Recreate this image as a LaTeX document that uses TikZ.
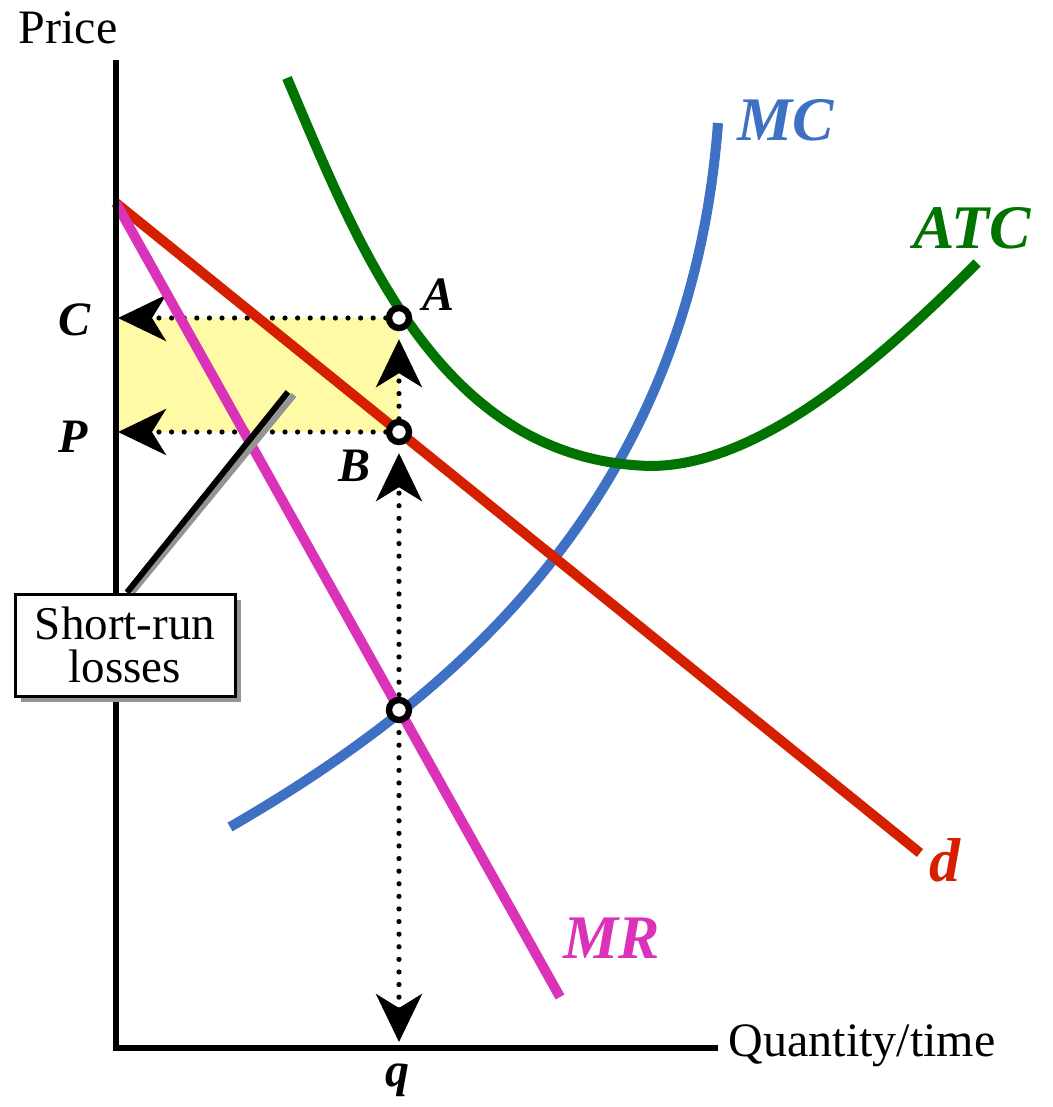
\documentclass[tikz,border=0pt]{standalone}
\usepackage{fontspec}
\setmainfont{Liberation Serif}
\usepackage{tikz}
\usetikzlibrary{arrows.meta,positioning,calc,shadows,backgrounds}

\begin{document}
\begin{tikzpicture}[
  x=0.5pt, y=-0.5pt,
  >={Stealth[length=24pt, width=23pt, inset=7pt]},
  axis/.style={line width=3pt, draw=black},
  curve/.style={line width=5pt},
  guide/.style={line width=2.6pt, line cap=round, dash pattern=on 0pt off 6.3pt},
  dot/.style={circle, draw=black, fill=white, line width=3.2pt, minimum size=10pt, inner sep=0pt},
  lbl/.style={font=\fontsize{24}{26}\selectfont\bfseries\itshape},
  crvlbl/.style={font=\fontsize{31}{33}\selectfont\bfseries\itshape},
  axlbl/.style={font=\fontsize{24}{26}\selectfont},
  callout/.style={
    draw=black, fill=white, line width=1.5pt,
    minimum width=110pt, minimum height=51pt,
    align=center, inner sep=2pt,
    font=\fontsize{23.5}{21.5}\selectfont,
    drop shadow={shadow xshift=3pt, shadow yshift=-3pt, fill=black!42, opacity=1}
  }
]

\definecolor{mcblue}{RGB}{62,112,196}
\definecolor{atcgreen}{RGB}{0,115,0}
\definecolor{dred}{RGB}{212,32,0}
\definecolor{mrmag}{RGB}{218,50,185}
\definecolor{lossyellow}{RGB}{255,250,165}

\useasboundingbox (0,0) rectangle (1053,1107);

% axis points (pixel grid of the original figure)
\coordinate (O) at (116,1048);
\coordinate (ytop) at (116,60);
\coordinate (xend) at (718,1048);
\coordinate (Cax) at (116,318);
\coordinate (Pax) at (116,432);
\coordinate (qax) at (399,1048);
\coordinate (ptr) at (288,392);

% marked points and callout sit on the main layer
\node[dot] (A) at (399,318) {};
\node[dot] (B) at (399,432) {};
\node[dot] (E) at (399,710) {};
\node[callout] (losses) at (125,645) {Short-run\\losses};

% labels
\node[axlbl] (price) at (68,28) {Price};
\node[axlbl] (qty) at (862,1046) {Quantity/time};
\node[lbl] (Clbl) at (75,320) {C};
\node[lbl] (Plbl) at (73,437) {P};
\node[lbl] (Albl) at (438,295) {A};
\node[lbl] (Blbl) at (355,466) {B};
\node[lbl] (qlbl) at (397,1080) {q};
\node[crvlbl, text=mcblue] (MClbl) at (786,120) {MC};
\node[crvlbl, text=atcgreen] (ATClbl) at (972,228) {ATC};
\node[crvlbl, text=dred] (dlbl) at (945,860) {d};
\node[crvlbl, text=mrmag] (MRlbl) at (612,938) {MR};

\begin{scope}[on background layer]
  % shaded loss rectangle
  \fill[lossyellow] (Cax) rectangle (B.center);

  % dotted guides with arrows
  \draw[guide, ->, shorten >=1pt] (A) -- (Cax);
  \draw[guide, ->, shorten >=1pt] (B) -- (Pax);
  \draw[guide, ->, shorten >=4pt] (B) -- (A);
  \draw[guide, <->, shorten <=3pt, shorten >=4pt] (qax) -- (B);

  % cost and revenue curves
  \draw[curve, mcblue] (230,827) .. controls (450,700) and (690,500) .. (718,123);
  \draw[curve, atcgreen] (287,78) .. controls (360,250) and (440,460) .. (650,466)
    .. controls (760,466) and (880,360) .. (977,263);
  \draw[curve, dred] (116,203) -- (920,853);
  \draw[curve, mrmag] (116,203) -- (560,997);

  % axes
  \draw[axis] (ytop) -- (O.center) -- (xend);

  % pointer to the loss area
  \draw[line width=3pt, black!42] ($(losses.north)+(7,0)$) -- ($(ptr)+(6,3)$);
  \draw[line width=3pt] ($(losses.north)+(2,0)$) -- (ptr);
\end{scope}

\end{tikzpicture}
\end{document}
